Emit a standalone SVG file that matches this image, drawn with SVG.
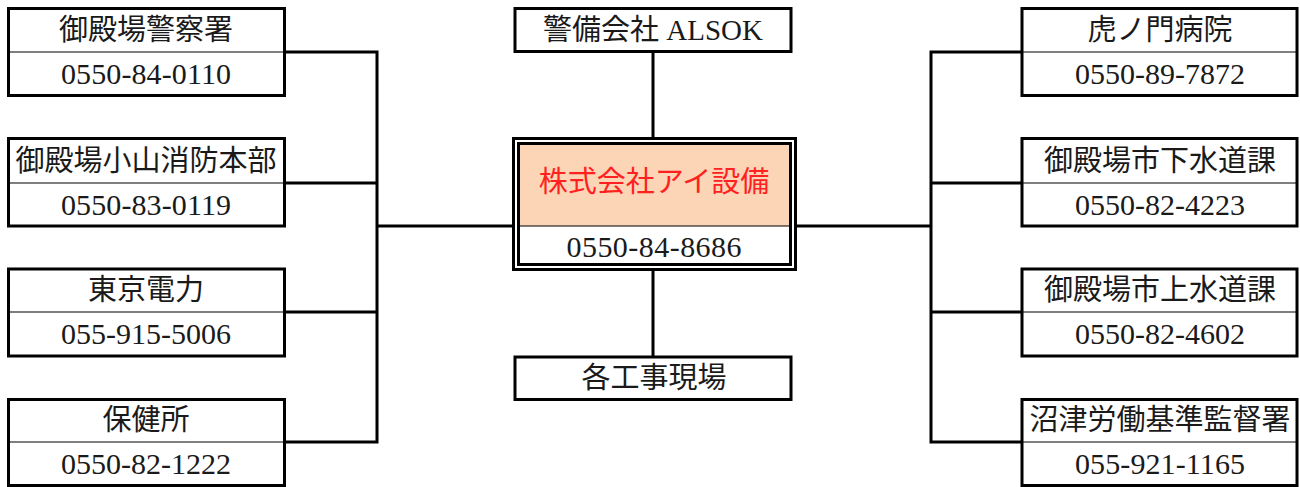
<svg xmlns="http://www.w3.org/2000/svg" width="1300" height="487" viewBox="0 0 1300 487">
<style>
.box{fill:#ffffff;stroke:#000;stroke-width:3}
.div{stroke:#000;stroke-width:1.2;fill:none}
.t{font-family:"Liberation Serif","Noto Sans CJK JP",serif;font-size:29px;fill:#1a1a1a;text-anchor:middle}
.n{font-size:30px}
.red{fill:#ff2020}
.conn{stroke:#000;stroke-width:3;fill:none}
</style>
<rect width="1300" height="487" fill="#ffffff"/>
<g id="connectors">
<path class="conn" d="M285 52 H377 M285 183 H377 M285 312 H377 M285 442 H377 M377 50.5 V443.5 M377 226 H513"/>
<path class="conn" d="M1021 52 H931 M1021 183 H931 M1021 312 H931 M1021 442 H931 M931 50.5 V443.5 M931 226 H796"/>
<path class="conn" d="M653 52 V138 M653 270 V356"/>
</g>
<g id="n-police">
<rect class="box" x="8.5" y="8.5" width="276" height="87"/>
<line class="div" x1="8.5" y1="52" x2="284.5" y2="52"/>
<text class="t" x="146" y="40">御殿場警察署</text>
<text class="t n" x="146" y="84" textLength="170" lengthAdjust="spacing">0550-84-0110</text>
</g>
<g id="n-fire">
<rect class="box" x="8.5" y="138.5" width="276" height="87.5"/>
<line class="div" x1="8.5" y1="183" x2="284.5" y2="183"/>
<text class="t" x="146" y="171">御殿場小山消防本部</text>
<text class="t n" x="146" y="215" textLength="170" lengthAdjust="spacing">0550-83-0119</text>
</g>
<g id="n-tepco">
<rect class="box" x="8.5" y="269" width="276" height="87"/>
<line class="div" x1="8.5" y1="312" x2="284.5" y2="312"/>
<text class="t" x="146" y="300">東京電力</text>
<text class="t n" x="146" y="344" textLength="170" lengthAdjust="spacing">055-915-5006</text>
</g>
<g id="n-health">
<rect class="box" x="8.5" y="399.5" width="276" height="86"/>
<line class="div" x1="8.5" y1="442" x2="284.5" y2="442"/>
<text class="t" x="146" y="430">保健所</text>
<text class="t n" x="146" y="474" textLength="170" lengthAdjust="spacing">0550-82-1222</text>
</g>
<g id="n-alsok">
<rect class="box" x="515" y="8.5" width="276" height="43"/>
<text class="t" x="653" y="40">警備会社 ALSOK</text>
</g>
<g id="n-main">
<rect x="513.5" y="138.5" width="282" height="131" fill="#ffffff" stroke="#000" stroke-width="3"/>
<rect x="518.5" y="143.5" width="272" height="121" fill="#ffffff" stroke="#000" stroke-width="3"/>
<rect x="520" y="145" width="269" height="81" fill="#fbd5b5"/>
<line class="div" x1="518.5" y1="226" x2="790.5" y2="226"/>
<text class="t red" x="654" y="192">株式会社アイ設備</text>
<text class="t n" x="654" y="257" textLength="175" lengthAdjust="spacing">0550-84-8686</text>
</g>
<g id="n-sites">
<rect class="box" x="515" y="357" width="276" height="42.5"/>
<text class="t" x="654" y="388">各工事現場</text>
</g>
<g id="n-hospital">
<rect class="box" x="1022" y="8.5" width="275" height="87"/>
<line class="div" x1="1022" y1="52" x2="1297" y2="52"/>
<text class="t" x="1160" y="40">虎ノ門病院</text>
<text class="t n" x="1160" y="84" textLength="170" lengthAdjust="spacing">0550-89-7872</text>
</g>
<g id="n-sewer">
<rect class="box" x="1022" y="138.5" width="275" height="87.5"/>
<line class="div" x1="1022" y1="183" x2="1297" y2="183"/>
<text class="t" x="1160" y="171">御殿場市下水道課</text>
<text class="t n" x="1160" y="215" textLength="170" lengthAdjust="spacing">0550-82-4223</text>
</g>
<g id="n-water">
<rect class="box" x="1022" y="269" width="275" height="87"/>
<line class="div" x1="1022" y1="312" x2="1297" y2="312"/>
<text class="t" x="1160" y="300">御殿場市上水道課</text>
<text class="t n" x="1160" y="344" textLength="170" lengthAdjust="spacing">0550-82-4602</text>
</g>
<g id="n-labor">
<rect class="box" x="1022" y="399.5" width="275" height="86"/>
<line class="div" x1="1022" y1="442" x2="1297" y2="442"/>
<text class="t" x="1160" y="430">沼津労働基準監督署</text>
<text class="t n" x="1160" y="474" textLength="170" lengthAdjust="spacing">055-921-1165</text>
</g>
</svg>
